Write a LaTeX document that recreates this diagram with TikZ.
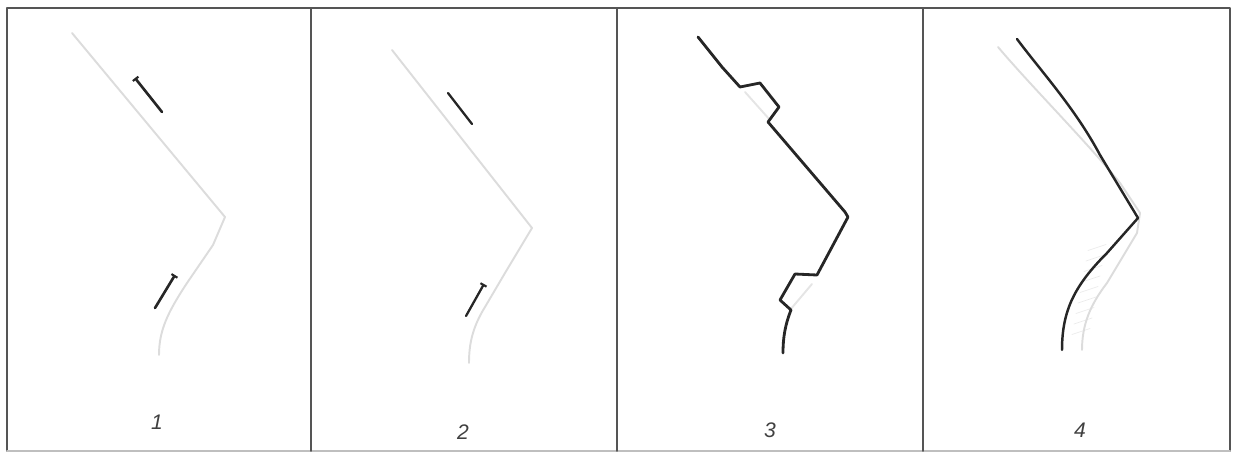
\documentclass[tikz,border=0pt]{standalone}
\usepackage{fontspec}
\setmainfont{Liberation Sans}
\usepackage{tikz}
\usetikzlibrary{arrows.meta, calc}
\definecolor{framegray}{HTML}{555555}
\definecolor{refgray}{HTML}{DCDCDC}

\begin{document}
\begin{tikzpicture}[x=0.02cm, y=-0.02cm, line join=round, line cap=round]
        \tikzstyle{frame} = [draw=framegray, line width=1.1pt]
        \tikzstyle{refpath} = [draw=refgray, line width=1.1pt]
        \tikzstyle{trace} = [draw=black!85, line width=1.6pt]
        \tikzstyle{piece} = [draw=black!85, line width=1.5pt, -{Bar[width=4pt,line width=1.2pt]}]
        \tikzstyle{label} = [font=\itshape\large, text=black!75]

        \useasboundingbox (0,0) rectangle (1234,453);

        % panels
        \draw [frame] (7,8) -- (1230,8) -- (1230,451);
        \draw [frame] (7,451) -- (7,8);
        \draw [draw=black!25, line width=1.1pt] (7,451) -- (1230,451);
        \draw [frame] (311,8) -- (311,451);
        \draw [frame] (617,8) -- (617,451);
        \draw [frame] (923,8) -- (923,451);

        % panel 1
        \draw [refpath] (72,33) -- (225,217) -- (213,245) -- (187,283) .. controls (168,312) and (159,330) .. (159,355);
        \draw [piece] (162,112) -- (135,78);
        \draw [piece] (155,308) -- (175,275);
        \node [label] (one) at (157,422) {1};

        % panel 2
        \draw [refpath] (392,50) -- (532,228) -- (505,273) -- (485,307) .. controls (472,328) and (469,345) .. (469,363);
        \draw [trace, line width=1.3pt] (448,93) -- (472,124);
        \draw [piece, line width=1.3pt] (466,316) -- (484,284);
        \node [label] (two) at (463,432) {2};

        % panel 3
        \draw [refpath, draw=black!10] (745,92) -- (770,120);
        \draw [refpath, draw=black!10] (812,284) -- (790,310);
        \draw [trace] (698,37) -- (722,67) -- (740,87) -- (760,83) -- (779,107) -- (768,122)
            -- (845,212) -- (848,217) -- (817,275) -- (795,274) -- (780,300) -- (791,310)
            .. controls (785,325) and (783,338) .. (783,353);
        \node [label] (three) at (770,430) {3};

        % panel 4
        \foreach \t in {0.1,0.2,...,0.9}
            \draw [draw=black!8, line width=0.4pt] ($(1090,240)!\t!(1070,345)$) -- ++(18,-6);
        \draw [refpath] (998,47) .. controls (1030,85) and (1085,140) .. (1120,183) -- (1140,213) -- (1137,233)
            -- (1107,283) .. controls (1090,305) and (1082,325) .. (1082,350);
        \draw [trace, line width=1.4pt] (1017,39) .. controls (1040,70) and (1075,108) .. (1100,155) -- (1138,218)
            -- (1107,253) .. controls (1075,285) and (1062,310) .. (1062,350);
        \node [label] (four) at (1080,430) {4};
\end{tikzpicture}
\end{document}
